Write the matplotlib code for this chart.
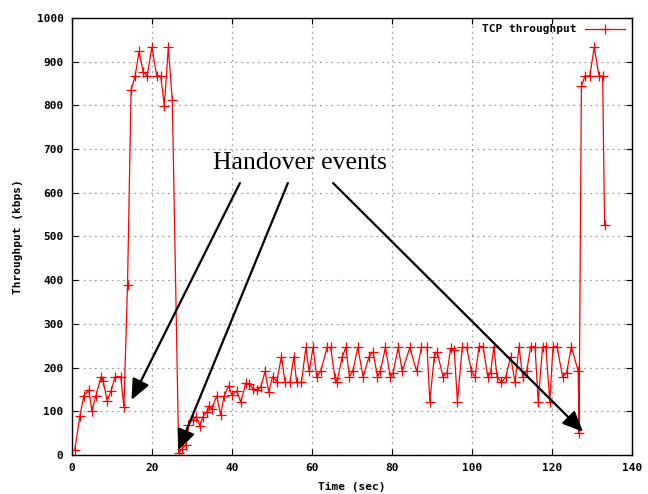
import matplotlib
matplotlib.use("Agg")
import matplotlib.pyplot as plt

# throughput samples (time in sec, kbps)
time_s = [0.7, 2, 3, 4.2, 5, 6, 7.3, 7.8, 8.8, 9.8, 10.8, 12.2, 13, 13.9,
          14.8, 15.8, 16.8, 17.8, 18.8, 20, 21.2, 22.2, 23.1, 24.1, 25.1,
          26.7, 27.4, 28.5, 29.1, 30.2, 31, 32, 32.8, 33.7, 34.3, 35, 36.2,
          37.2, 38, 39.2, 40, 41.2, 42.2, 43.5, 44.3, 45.3, 46.3, 47.2, 48.3,
          49.2, 50.2, 51.2, 52.4, 53.3, 54.5, 55.5, 56.2, 57.4, 58.5, 59.3,
          60.3, 61.2, 62.2, 63.8, 64.7, 65.8, 66.3, 67.6, 68.5, 69.4, 70.2,
          71.5, 72.8, 74.3, 75.3, 76.4, 77.1, 78.4, 79.6, 80.3, 81.6, 82.6,
          84.5, 86.2, 87.4, 88.8, 89.5, 90.6, 91.3, 92.8, 93.8, 94.7, 95.6,
          96.4, 97.6, 98.7, 99.9, 100.8, 101.8, 102.8, 104, 104.7, 105.5,
          106.3, 107.4, 108.5, 109.7, 110.8, 111.8, 112.7, 113.7, 114.7,
          115.8, 116.6, 117.7, 118.5, 119.5, 120.3, 121.3, 122.7, 123.7,
          124.9, 126.6, 126.8, 127.4, 128.3, 129.5, 130.6, 131.8, 132.7,
          133.2]
throughput = [11, 90, 136, 149, 101, 136, 179, 170, 124, 147, 179, 179, 110,
              389, 835, 867, 923, 877, 867, 933, 867, 867, 799, 933, 811,
              5, 13, 23, 69, 80, 88, 67, 88, 99, 112, 105, 135,
              91, 134, 158, 137, 146, 121, 165, 162, 152, 149, 155, 191,
              145, 179, 168, 225, 166, 166, 225, 166, 166, 246, 191,
              246, 179, 191, 246, 246, 175, 168, 225, 246, 179, 191,
              246, 179, 225, 236, 179, 191, 246, 179, 188, 246, 191,
              246, 191, 246, 246, 122, 225, 236, 179, 188, 244, 239,
              122, 246, 246, 191, 179, 248, 248, 179, 188, 248,
              179, 166, 179, 225, 166, 248, 179, 191, 248,
              248, 122, 248, 248, 122, 248, 248, 179, 188,
              248, 191, 50, 844, 867, 867, 933, 867, 867,
              525]

x_ticks = list(range(0, 141, 20))
y_ticks = list(range(0, 1001, 100))

mono = {"family": "DejaVu Sans Mono", "weight": "bold", "size": 8}

fig = plt.figure(figsize=(6.48, 4.94), dpi=100)
ax = fig.add_axes([0.111, 0.079, 0.864, 0.885])

ax.plot(time_s, throughput, color="#ff0000", lw=0.9, marker="+", ms=6.5,
        mew=0.9, label="TCP throughput")

ax.set_xlim(0, 140)
ax.set_ylim(0, 1000)
ax.set_xticks(x_ticks)
ax.set_yticks(y_ticks)
ax.grid(True, color="#a0a0a0", linestyle=(0, (1.5, 3)), lw=0.9)
ax.tick_params(direction="in", top=True, right=True, length=4, width=0.8,
               pad=6)
for lab in ax.get_xticklabels() + ax.get_yticklabels():
    lab.set_fontfamily(mono["family"])
    lab.set_fontweight("bold")
    lab.set_fontsize(mono["size"])
for s in ax.spines.values():
    s.set_linewidth(1)

ax.set_xlabel("Time (sec)", fontdict=mono, labelpad=6)
ax.set_ylabel("Throughput (kbps)", fontdict=mono, labelpad=10)

leg = ax.legend(loc="upper right", frameon=False, markerfirst=False,
                handlelength=3.6, borderaxespad=0.2,
                prop={"family": "DejaVu Sans Mono", "weight": "bold",
                      "size": 8})

# annotation with three arrows
ax.text(57, 642, "Handover events", family="Liberation Serif", size=18.5,
        ha="center", va="bottom")
arrows = [((42, 622), (14.9, 126)),
          ((54, 622), (26.6, 11)),
          ((65.3, 622), (127.8, 53))]
for start, end in arrows:
    ax.annotate("", xy=end, xytext=start,
                arrowprops=dict(arrowstyle="-|>,head_length=1.25,head_width=0.55",
                                color="black", lw=1.6,
                                shrinkA=0, shrinkB=0))

fig.savefig("out.png", dpi=100)
